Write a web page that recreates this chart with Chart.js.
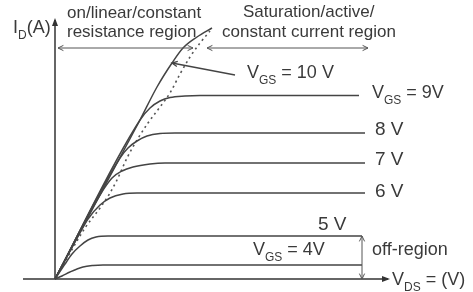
<!DOCTYPE html>
<html>
<head>
<meta charset="utf-8">
<script src="https://cdn.jsdelivr.net/npm/chart.js@4.4.0/dist/chart.umd.min.js"></script>
<style>
body { margin: 0; background: #fff; }
#wrap { width: 473px; height: 292px; }
</style>
</head>
<body>
<div id="wrap"><canvas id="myChart"></canvas></div>
<script>
// output curves (V_DS on x, I_D on y, arbitrary units)
var vds4 = [0, 0.7, 1.5, 2.8, 3.8, 4.8, 30.7];
var id4  = [0, 0.3, 0.7, 1.2, 1.35, 1.4, 1.4];
var vds5 = [0, 1.0, 1.7, 2.5, 3.3, 4.1, 5.3, 30.7];
var id5  = [0, 1.5, 2.5, 3.3, 3.9, 4.2, 4.3, 4.3];
var vds6 = [0, 2.0, 3.3, 4.5, 5.5, 6.8, 8.2, 31];
var id6  = [0, 3.7, 6.0, 7.4, 8.1, 8.5, 8.6, 8.6];
var vds7 = [0, 4.5, 5.7, 6.7, 7.8, 9.5, 11, 31];
var id7  = [0, 8.4, 10.1, 10.8, 11.2, 11.5, 11.6, 11.6];
var vds8 = [0, 6.5, 7.3, 8.2, 9.2, 10.5, 12, 31];
var id8  = [0, 12.1, 13.1, 13.8, 14.3, 14.55, 14.6, 14.6];
var vds9 = [0, 8.5, 9.5, 10.5, 11.5, 13, 14.5, 30.4];
var id9  = [0, 15.9, 17.1, 17.8, 18.15, 18.3, 18.35, 18.35];
var vds10 = [0, 8.5, 10.2, 11.7, 12.8, 14.2, 15.7];
var id10  = [0, 15.9, 19.2, 21.6, 23.1, 24.2, 25.1];
// boundary between linear and saturation region (dotted)
var vdsSat = [0, 1.5, 3.0, 4.5, 5.5, 6.2, 7.2, 8.2, 9.3, 10.5, 11.5, 12.5, 13.5, 14.5, 15.5];
var idSat  = [0, 2.6, 5.1, 7.1, 8.6, 9.9, 12.1, 13.9, 15.6, 17.2, 18.6, 20.5, 22.2, 23.6, 24.8];

// axes extent
var xAxisRange = [-3.2, 33.3];
var yAxisRange = [0, 25.9];

// region arrows
var linRegion = [0.3, 13.8, 23.1];        // x from, x to, y
var satRegion = [15.2, 31.3, 23.1];
var offRegion = [30.7, 0, 4.3];           // x, y from, y to
var pointer10 = [18.0, 20.4, 11.7, 21.6]; // from x,y  to x,y

// text labels (anchor = left edge, vertical centre, in data units)
var plainText = ['on/linear/constant', 'resistance region', 'Saturation/active/',
                 'constant current region', 'off-region', '8 V', '7 V', '6 V', '5 V'];
var plainX = [1.2, 1.2, 18.8, 16.7, 31.7, 32, 32, 32, 26.3];
var plainY = [26.6, 24.7, 26.7, 24.7, 2.9, 14.9, 11.9, 8.7, 5.4];
var plainSize = [17, 17, 17, 17, 18, 19, 19, 19, 19];

var subMain = ['I', 'V', 'V', 'V', 'V'];
var subSub  = ['D', 'GS', 'GS', 'GS', 'DS'];
var subRest = ['(A)', ' = 10 V', ' = 9V', ' = 4V', ' = (V)'];
var subX = [-4.2, 19.2, 31.7, 19.8, 33.7];
var subY = [25.1, 20.55, 18.6, 2.9, -0.1];

function pts(xs, ys) {
    var out = [];
    for (var i = 0; i < xs.length; i++) out.push({x: xs[i], y: ys[i]});
    return out;
}

var curveColor = '#444';
function curve(xs, ys) {
    return {
        data: pts(xs, ys),
        borderColor: curveColor,
        borderWidth: 1.5,
        pointRadius: 0,
        cubicInterpolationMode: 'monotone',
        fill: false
    };
}

var datasets = [
    curve(vds4, id4), curve(vds5, id5), curve(vds6, id6), curve(vds7, id7),
    curve(vds8, id8), curve(vds9, id9), curve(vds10, id10),
    {
        data: pts(vdsSat, idSat),
        borderColor: '#555',
        borderWidth: 1.6,
        borderDash: [2, 3.5],
        pointRadius: 0,
        cubicInterpolationMode: 'monotone'
    },
    {
        data: [{x: xAxisRange[0], y: 0}, {x: xAxisRange[1], y: 0}],
        borderColor: '#333', borderWidth: 1.5, pointRadius: 0
    },
    {
        data: [{x: 0, y: yAxisRange[0]}, {x: 0, y: yAxisRange[1]}],
        borderColor: '#333', borderWidth: 1.5, pointRadius: 0
    }
];

// draws arrows and text on top of the curves
var annotations = {
    id: 'annotations',
    afterDatasetsDraw: function(chart) {
        var ctx = chart.ctx;
        var sx = chart.scales.x, sy = chart.scales.y;
        function px(v) { return sx.getPixelForValue(v); }
        function py(v) { return sy.getPixelForValue(v); }

        ctx.save();
        // filled axis heads
        ctx.fillStyle = '#333';
        var ax = px(0), ay = py(yAxisRange[1]);
        ctx.beginPath();
        ctx.moveTo(ax, ay - 2); ctx.lineTo(ax - 3, ay + 6); ctx.lineTo(ax + 3, ay + 6);
        ctx.closePath(); ctx.fill();
        var bx = px(xAxisRange[1]), by = py(0);
        ctx.beginPath();
        ctx.moveTo(bx + 2, by); ctx.lineTo(bx - 6, by - 3); ctx.lineTo(bx - 6, by + 3);
        ctx.closePath(); ctx.fill();

        // open arrows
        ctx.strokeStyle = '#555';
        ctx.lineWidth = 1;
        function head(x1, y1, x2, y2) {
            var a = Math.atan2(y2 - y1, x2 - x1), L = 6;
            ctx.beginPath();
            ctx.moveTo(x2 - L * Math.cos(a - 0.45), y2 - L * Math.sin(a - 0.45));
            ctx.lineTo(x2, y2);
            ctx.lineTo(x2 - L * Math.cos(a + 0.45), y2 - L * Math.sin(a + 0.45));
            ctx.stroke();
        }
        function arrow(x1, y1, x2, y2, both) {
            ctx.beginPath(); ctx.moveTo(x1, y1); ctx.lineTo(x2, y2); ctx.stroke();
            head(x1, y1, x2, y2);
            if (both) head(x2, y2, x1, y1);
        }
        arrow(px(linRegion[0]), py(linRegion[2]), px(linRegion[1]), py(linRegion[2]), true);
        arrow(px(satRegion[0]), py(satRegion[2]), px(satRegion[1]), py(satRegion[2]), true);
        arrow(px(offRegion[0]), py(offRegion[1]), px(offRegion[0]), py(offRegion[2]), true);
        ctx.strokeStyle = '#444';
        ctx.lineWidth = 1.3;
        arrow(px(pointer10[0]), py(pointer10[1]), px(pointer10[2]), py(pointer10[3]), false);

        // text
        ctx.fillStyle = '#3a3a3a';
        ctx.textBaseline = 'middle';
        ctx.textAlign = 'left';
        var fam = '"Liberation Sans", Arial, sans-serif';
        for (var i = 0; i < plainText.length; i++) {
            ctx.font = plainSize[i] + 'px ' + fam;
            ctx.fillText(plainText[i], px(plainX[i]), py(plainY[i]));
        }
        for (var j = 0; j < subMain.length; j++) {
            var big = 18, small = 12;
            var x = px(subX[j]), y = py(subY[j]);
            ctx.font = big + 'px ' + fam;
            ctx.fillText(subMain[j], x, y);
            x += ctx.measureText(subMain[j]).width;
            ctx.font = small + 'px ' + fam;
            ctx.fillText(subSub[j], x, y + big * 0.4);
            x += ctx.measureText(subSub[j]).width;
            ctx.font = big + 'px ' + fam;
            ctx.fillText(subRest[j], x, y);
        }
        ctx.restore();
    }
};

var myChart = new Chart(document.getElementById('myChart'), {
    type: 'line',
    data: { datasets: datasets },
    options: {
        responsive: true,
        maintainAspectRatio: false,
        animation: false,
        layout: { padding: 0 },
        plugins: { legend: { display: false }, tooltip: { enabled: false } },
        scales: {
            x: { type: 'linear', min: -5.5, max: 41.8, display: false },
            y: { type: 'linear', min: -1.3, max: 27.9, display: false }
        }
    },
    plugins: [annotations]
});
</script>
</body>
</html>
